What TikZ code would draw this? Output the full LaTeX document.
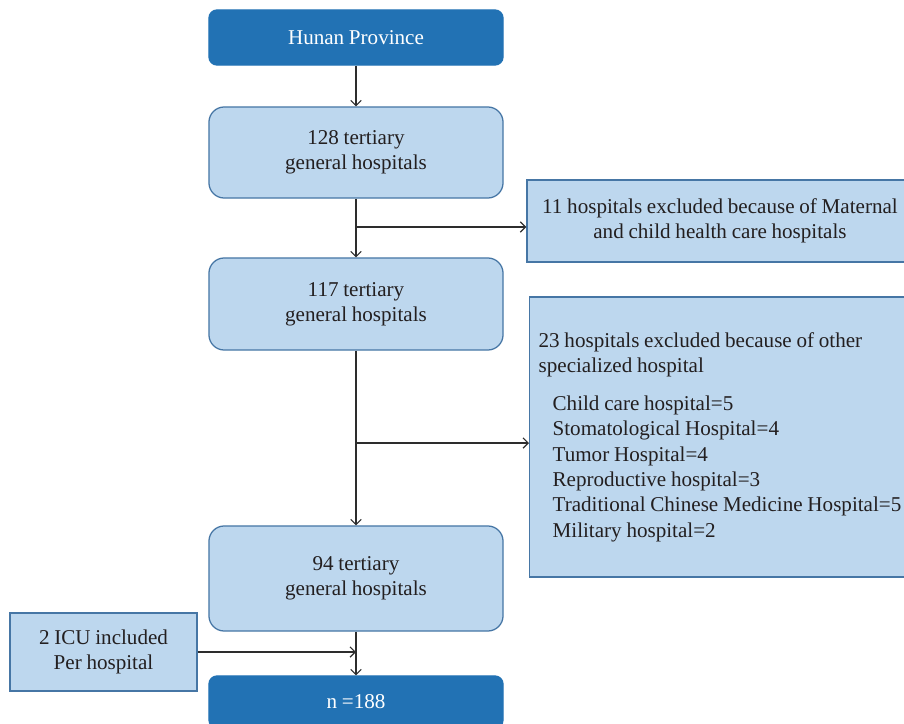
\documentclass[tikz,border=0pt]{standalone}
\usepackage{fontspec}
\setmainfont[WordSpace=0.9]{Liberation Serif}
\usepackage{tikz}
\usetikzlibrary{arrows.meta}
\definecolor{darkblue}{RGB}{34,114,180}
\definecolor{lightblue}{RGB}{189,215,238}
\definecolor{edgeblue}{RGB}{70,118,165}
\definecolor{textgray}{RGB}{35,31,32}
\definecolor{linegray}{RGB}{45,45,45}
\tikzset{txt/.style={font=\fontsize{15}{18}\selectfont, text=textgray, align=center, inner sep=0pt}}
\tikzset{darkbox/.style={txt, text=white, fill=darkblue, draw=darkblue, line width=0.9pt,
      rounded corners=0.2cm, minimum width=7.35cm}}
\tikzset{mainbox/.style={txt, fill=lightblue, draw=edgeblue, line width=0.9pt,
      rounded corners=0.38cm, minimum width=7.35cm}}
\tikzset{sidebox/.style={txt, fill=lightblue, draw=edgeblue, line width=0.9pt}}
\tikzset{link/.style={-{Straight Barb[length=1.3mm, width=2.6mm]}, draw=linegray, line width=0.8pt}}

\begin{document}
\begin{tikzpicture}[x=0.025cm, y=-0.025cm]
    \useasboundingbox (0,0) rectangle (904,724);
    \clip (0,0) rectangle (904,724);
    \node[darkbox, minimum height=1.375cm] (hunan) at (356,37.5) {Hunan Province};
    \node[mainbox, minimum height=2.275cm] (h128) at (356,152.5) {128 tertiary\\general hospitals};
    \node[mainbox, minimum height=2.3cm] (h117) at (356,304) {117 tertiary\\general hospitals};
    \node[mainbox, minimum height=2.625cm] (h94) at (356,578.5) {94 tertiary\\general hospitals};
    \node[darkbox, minimum height=1.3cm] (n188) at (356,702) {n =188};
    \node[sidebox, minimum width=9.65cm, minimum height=2.05cm] (excl1) at (720,221)
      {11 hospitals excluded because of Maternal\\and child health care hospitals};
    \node[sidebox, align=flush left, text width=9.15cm, inner xsep=0.225cm, minimum height=7cm,
      anchor=west] (excl2) at (529,437)
      {23 hospitals excluded because of other\\specialized hospital\\[9pt]
       \hspace*{0.35cm}Child care hospital=5\\
       \hspace*{0.35cm}Stomatological Hospital=4\\
       \hspace*{0.35cm}Tumor Hospital=4\\
       \hspace*{0.35cm}Reproductive hospital=3\\
       \mbox{\hspace*{0.35cm}Traditional Chinese Medicine Hospital=5}\\
       \hspace*{0.35cm}Military hospital=2};
    \node[sidebox, minimum width=4.675cm, minimum height=1.95cm] (icu) at (103.5,652)
      {2 ICU included\\Per hospital};
    \coordinate (b1) at (356,227);
    \coordinate (b2) at (356,443);
    \draw[link] (hunan) -- (h128);
    \draw[link] (h128) -- (h117);
    \draw[link] (b1) -- (b1 -| excl1.west);
    \draw[link] (h117) -- (h94);
    \draw[link] (b2) -- (b2 -| excl2.west);
    \draw[link] (h94) -- (n188);
    \draw[link] (icu.east) -- (icu.east -| h94.south);
  \end{tikzpicture}
\end{document}
